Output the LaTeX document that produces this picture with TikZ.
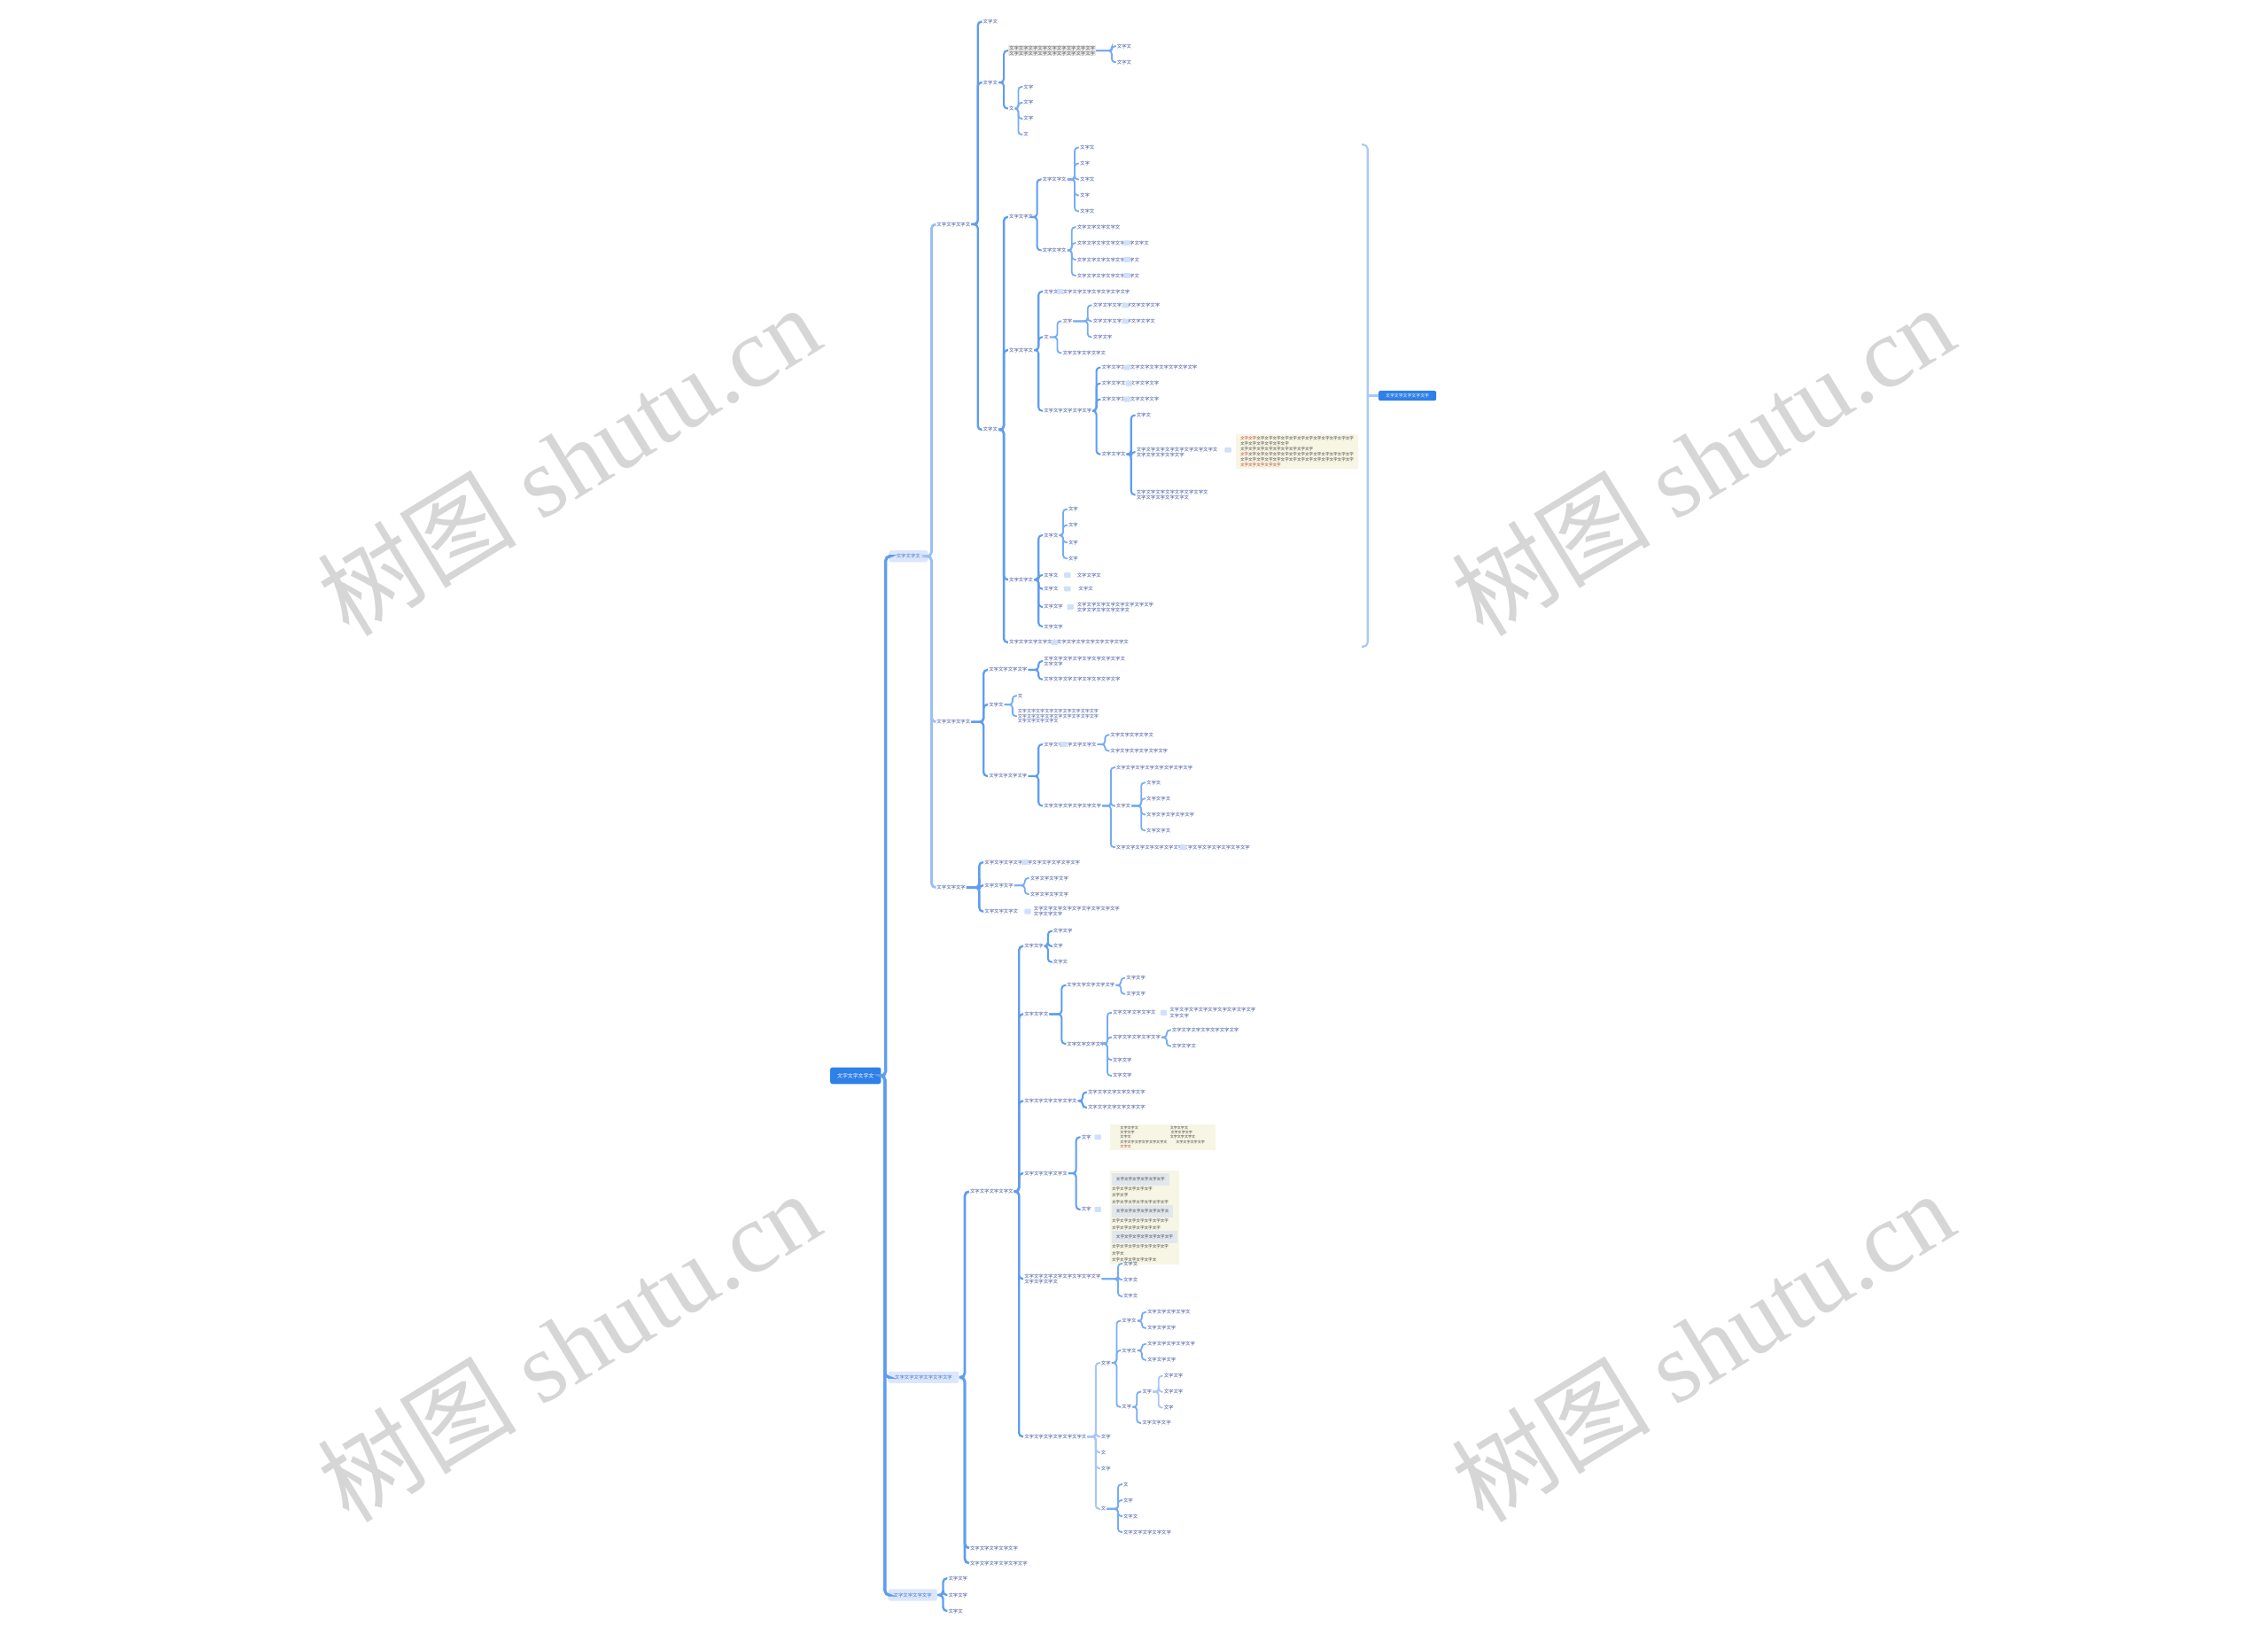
\documentclass[tikz,border=0pt]{standalone}
\usepackage{fontspec}
\setmainfont{Liberation Serif}
\newfontfamily\cjk{Noto Sans CJK SC}
\definecolor{lnc}{HTML}{5E9DF2}
\definecolor{lnl}{HTML}{A9C8F6}
\definecolor{txc}{HTML}{34489A}
\definecolor{rootc}{HTML}{2F80E8}
\definecolor{l1fill}{HTML}{DCE7FB}
\definecolor{l1txt}{HTML}{3B6FD6}
\definecolor{notec}{HTML}{F7F5E4}
\definecolor{notered}{HTML}{C0392B}
\definecolor{icc}{HTML}{CFE0FA}
\definecolor{wm}{HTML}{D6D6D6}
\newcommand\txn[1]{\foreach\ii in {1,...,#1}{\ifodd\ii\relax 文\else 字\fi}}
\newcommand\tx[1]{\pgfmathtruncatemacro\nch{max(1,round(#1/3.3))}\txn{\nch}}
\newcommand\cns[3]{\foreach \kid in {#3}{\draw[#1] (#2.east) -| ([xshift=-3pt]\kid.west) -- (\kid.west);}}
\tikzset{
 tn/.style={anchor=west, inner xsep=0.5pt, inner ysep=0.4pt, font=\cjk\fontsize{3.3}{3.8}\selectfont, text=txc, align=left},
 rootbox/.style={fill=rootc, text=white, rounded corners=1.5pt, inner sep=0pt, font=\cjk\fontsize{3.6}{4}\selectfont},
 l1box/.style={fill=l1fill, text=l1txt, rounded corners=1.5pt, minimum height=8pt, inner sep=0pt, font=\cjk\fontsize{3.3}{3.8}\selectfont},
 k0/.style={draw=lnc, line width=2pt, rounded corners=3pt},
 k1/.style={draw=lnc, line width=1.7pt, rounded corners=3pt},
 k2/.style={draw=lnc, line width=1.45pt, rounded corners=2.6pt},
 k3/.style={draw=lnc, line width=1.25pt, rounded corners=2.4pt},
 k4/.style={draw=lnc!85!white, line width=1.1pt, rounded corners=2.2pt},
 ic/.style={fill=icc, rounded corners=0.5pt, minimum width=4.5pt, minimum height=3.6pt, inner sep=0pt},
 notebox/.style={anchor=north west, fill=notec, inner sep=1.5pt, text=black!75, align=left},
 wmark/.style={rotate=31.5, text=wm, font=\fontsize{69}{72}\selectfont, inner sep=0pt},
}
\begin{document}
\begin{tikzpicture}[x=1pt,y=-1pt]
\useasboundingbox (0,0) rectangle (1568,1129);
\fill[white] (0,0) rectangle (1568,1129);
% watermarks
\node[wmark] (w1) at (393,318) {{\cjk 树图} shutu.cn};
\node[wmark] (w2) at (1177,318) {{\cjk 树图} shutu.cn};
\node[wmark] (w3) at (393,930) {{\cjk 树图} shutu.cn};
\node[wmark] (w4) at (1177,930) {{\cjk 树图} shutu.cn};
% root and level 1
\node[rootbox, minimum width=35pt, minimum height=11.5pt] (R) at (591.5,743.5) {\tx{23}};
\node[l1box, minimum width=27pt] (A) at (628,384.5) {\tx{15}};
\node[l1box, minimum width=49pt] (B) at (638.5,952) {\tx{38}};
\node[l1box, minimum width=34pt] (C) at (631,1102.5) {\tx{27}};
\foreach\kid in {A,B,C}{\draw[k0] (R.east) -| ([xshift=-2pt]\kid.west) -- (\kid.west);}
% ---------- A
\node[tn] (A1) at (647,155) {\tx{24}};
\node[tn] (A2) at (647,499) {\tx{24}};
\node[tn] (A3) at (647,613.5) {\tx{21}};
\cns{k1,draw=lnl!80!lnc}{A}{A1,A2,A3}
% A1
\node[tn] (A1a) at (679,15) {\tx{11}};
\node[tn] (A1b) at (679,57) {\tx{10}};
\node[tn] (A1c) at (679,297) {\tx{11}};
\cns{k2}{A1}{A1a,A1b,A1c}
\node[tn, fill=gray!18, text=gray!65!black] (A1b1) at (697,35) {\tx{58}\\\tx{58}};
\node[tn] (A1b2) at (697,75) {\tx{3}};
\cns{k3}{A1b}{A1b1,A1b2}
\node[tn] (A1b1a) at (771.6,32) {\tx{11}};
\node[tn] (A1b1b) at (771.6,43) {\tx{11}};
\cns{k4}{A1b1}{A1b1a,A1b1b}
\node[tn] (A1b2a) at (707,60) {\tx{5}};
\node[tn] (A1b2b) at (707,71) {\tx{5}};
\node[tn] (A1b2c) at (707,82) {\tx{5}};
\node[tn] (A1b2d) at (707,93) {\tx{3}};
\cns{k4}{A1b2}{A1b2a,A1b2b,A1b2c,A1b2d}
% A1c
\node[tn] (A1c1) at (697,150) {\tx{16}};
\node[tn] (A1c2) at (697,242) {\tx{15}};
\node[tn] (A1c3) at (697,400.6) {\tx{15}};
\node[tn] (A1c4) at (697,444) {\tx{82}};
\node[ic] (i1) at (729,444) {};
\cns{k2}{A1c}{A1c1,A1c2,A1c3,A1c4}
\node[tn] (A1c1a) at (720,124) {\tx{16}};
\node[tn] (A1c1b) at (720,173) {\tx{18}};
\cns{k3}{A1c1}{A1c1a,A1c1b}
\node[tn] (A1c1a1) at (746,102) {\tx{10}};
\node[tn] (A1c1a2) at (746,113) {\tx{8}};
\node[tn] (A1c1a3) at (746,124) {\tx{10}};
\node[tn] (A1c1a4) at (746,135) {\tx{6}};
\node[tn] (A1c1a5) at (746,146) {\tx{10}};
\cns{k4}{A1c1a}{A1c1a1,A1c1a2,A1c1a3,A1c1a4,A1c1a5}
\node[tn] (A1c1b1) at (744,157) {\tx{31}};
\node[tn] (A1c1b2) at (744,168) {\tx{50}};
\node[tn] (A1c1b3) at (744,179.5) {\tx{42}};
\node[tn] (A1c1b4) at (744,190.5) {\tx{42}};
\node[ic] (i2) at (779,168) {};
\node[ic] (i3) at (779,179.5) {};
\node[ic] (i4) at (779,190.5) {};
\cns{k4}{A1c1b}{A1c1b1,A1c1b2,A1c1b3,A1c1b4}
\node[tn] (A1c2a) at (721,201.5) {\tx{61}};
\node[ic] (i5) at (733,201.5) {};
\node[tn] (A1c2b) at (721,233) {\tx{4}};
\node[tn] (A1c2c) at (721,284) {\tx{34}};
\cns{k3}{A1c2}{A1c2a,A1c2b,A1c2c}
\node[tn] (A1c2b1) at (734,222) {\tx{8}};
\node[tn] (A1c2b2) at (734,244) {\tx{30}};
\cns{k4}{A1c2b}{A1c2b1,A1c2b2}
\node[tn] (A1c2b1a) at (755,211) {\tx{45}};
\node[tn] (A1c2b1b) at (755,222) {\tx{44}};
\node[tn] (A1c2b1c) at (755,233) {\tx{12}};
\node[ic] (i6) at (778,211) {};
\node[ic] (i7) at (778,222) {};
\cns{k4}{A1c2b1}{A1c2b1a,A1c2b1b,A1c2b1c}
\node[tn] (A1c2c1) at (761,254) {\tx{65}};
\node[tn] (A1c2c2) at (761,265) {\tx{41}};
\node[tn] (A1c2c3) at (761,276) {\tx{41}};
\node[tn] (A1c2c4) at (761,314) {\tx{15}};
\node[ic] (i8) at (779,254) {};
\node[ic] (i9) at (780.5,265) {};
\node[ic] (i10) at (779,276) {};
\cns{k3}{A1c2c}{A1c2c1,A1c2c2,A1c2c3,A1c2c4}
\node[tn] (A1c2c4a) at (785,287) {\tx{10}};
\node[tn] (A1c2c4b) at (785,312.5) {\tx{56}\\\tx{33}};
\node[tn] (A1c2c4c) at (785,342) {\tx{48}\\\tx{37}};
\cns{k3}{A1c2c4}{A1c2c4a,A1c2c4b,A1c2c4c}
\node[ic] (i11) at (849,311) {};
\node[notebox, minimum width=85pt, minimum height=24pt, font=\cjk\fontsize{2.8}{3.7}\selectfont] (N1) at (854,300)
 {{\color{notered}\txn{4}}\txn{24}\\\txn{12}\\\txn{18}\\{\color{notered}\txn{2}}\txn{26}\\\txn{28}\\{\color{notered}\txn{10}}};
% A1c3
\node[tn] (A1c3a) at (721,370) {\tx{10}};
\node[tn] (A1c3b) at (721,397.5) {\tx{10}};
\node[tn] (A1c3c) at (721,407) {\tx{9}};
\node[tn] (A1c3d) at (721,419.5) {\tx{14}};
\node[tn] (A1c3e) at (721,433) {\tx{13}};
\cns{k3}{A1c3}{A1c3a,A1c3b,A1c3c,A1c3d,A1c3e}
\node[ic] (i12) at (738,397.5) {};
\node[ic] (i13) at (738,407) {};
\node[ic] (i14) at (740,419.5) {};
\node[tn] (A1c3bx) at (744,397.5) {\tx{15}};
\node[tn] (A1c3cx) at (745,407) {\tx{11}};
\node[tn] (A1c3dx) at (744,420) {\tx{54}\\\tx{37}};
\node[tn] (A1c3a1) at (738,352) {\tx{7}};
\node[tn] (A1c3a2) at (738,363) {\tx{7}};
\node[tn] (A1c3a3) at (738,375) {\tx{6}};
\node[tn] (A1c3a4) at (738,386) {\tx{7}};
\cns{k4}{A1c3a}{A1c3a1,A1c3a2,A1c3a3,A1c3a4}
% summary
\draw[lnl, line width=1.3pt, rounded corners=3pt] (941.5,100) -| (945.5,447) -- (941.5,447);
\node[rootbox, minimum width=40pt, minimum height=7pt, font=\cjk\fontsize{3}{3.5}\selectfont] (S) at (973,273.5) {\tx{32}};
\draw[lnl, line width=1.3pt] (945.5,273.5) -- (S.west);
% A2
\node[tn] (A2a) at (683,463) {\tx{28}};
\node[tn] (A2b) at (683,487) {\tx{11}};
\node[tn] (A2c) at (683,536.5) {\tx{27}};
\cns{k2}{A2}{A2a,A2b,A2c}
\node[tn] (A2a1) at (721,457) {\tx{55}\\\tx{12}};
\node[tn] (A2a2) at (721,469.6) {\tx{54}};
\cns{k3}{A2a}{A2a1,A2a2}
\node[tn] (A2b1) at (703,481) {\tx{3}};
\node[tn, font=\cjk\fontsize{3.1}{3.6}\selectfont] (A2b2) at (703,495) {\tx{58}\\\tx{58}\\\tx{31}};
\cns{k4}{A2b}{A2b1,A2b2}
\node[tn] (A2c1) at (721,514.5) {\tx{37}};
\node[tn] (A2c2) at (721,557) {\tx{39}};
\node[ic] (i15) at (735,514.5) {};
\cns{k3}{A2c}{A2c1,A2c2}
\node[tn] (A2c1a) at (767,508) {\tx{31}};
\node[tn] (A2c1b) at (767,519) {\tx{39}};
\cns{k4}{A2c1}{A2c1a,A2c1b}
\node[tn] (A2c2a) at (771,530.5) {\tx{54}};
\node[tn] (A2c2b) at (771,557) {\tx{9}};
\node[tn] (A2c2c) at (771,585.6) {\tx{94}};
\node[ic] (i16) at (818,585.6) {};
\cns{k4}{A2c2}{A2c2a,A2c2b,A2c2c}
\node[tn] (A2c2b1) at (792,541) {\tx{11}};
\node[tn] (A2c2b2) at (792,552) {\tx{17}};
\node[tn] (A2c2b3) at (792,563) {\tx{32}};
\node[tn] (A2c2b4) at (792,574) {\tx{18}};
\cns{k4}{A2c2b}{A2c2b1,A2c2b2,A2c2b3,A2c2b4}
% A3
\node[tn] (A3a) at (680,596) {\tx{66}};
\node[tn] (A3b) at (680,612) {\tx{21}};
\node[tn] (A3c) at (680,630) {\tx{22}};
\node[ic] (i17) at (708.5,596) {};
\node[ic] (i18) at (710.5,630) {};
\node[tn] (A3cx) at (714,630) {\tx{58}\\\tx{20}};
\cns{k2}{A3}{A3a,A3b,A3c}
\node[tn] (A3b1) at (711.5,607) {\tx{27}};
\node[tn] (A3b2) at (711.5,618) {\tx{27}};
\cns{k4}{A3b}{A3b1,A3b2}
% ---------- B
\node[tn] (B1) at (670,823.6) {\tx{30}};
\node[tn] (B2) at (670,1070) {\tx{34}};
\node[tn] (B3) at (670,1080.5) {\tx{38}};
\cns{k1}{B}{B1,B2,B3}
\node[tn] (B1a) at (707.5,654) {\tx{12}};
\node[tn] (B1b) at (707.5,701) {\tx{18}};
\node[tn] (B1c) at (707.5,761) {\tx{37}};
\node[tn] (B1d) at (707.5,811) {\tx{29}};
\node[tn] (B1e) at (707.5,884) {\tx{54}\\\tx{24}};
\node[tn] (B1f) at (707.5,993) {\tx{44}};
\cns{k2}{B1}{B1a,B1b,B1c,B1d,B1e,B1f}
\node[tn] (B1a1) at (727.5,643.6) {\tx{12}};
\node[tn] (B1a2) at (727.5,654) {\tx{6}};
\node[tn] (B1a3) at (727.5,665) {\tx{10}};
\cns{k3}{B1a}{B1a1,B1a2,B1a3}
\node[tn] (B1b1) at (737,681) {\tx{33}};
\node[tn] (B1b2) at (737,721.5) {\tx{25}};
\cns{k3}{B1b}{B1b1,B1b2}
\node[tn] (B1b1a) at (778,676) {\tx{13}};
\node[tn] (B1b1b) at (778,687) {\tx{13}};
\cns{k4}{B1b1}{B1b1a,B1b1b}
\node[tn] (B1b2a) at (768.6,700) {\tx{31}};
\node[tn] (B1b2b) at (768.6,717) {\tx{34}};
\node[tn] (B1b2c) at (768.6,732.5) {\tx{12}};
\node[tn] (B1b2d) at (768.6,743.5) {\tx{12}};
\node[ic] (i19) at (804.5,700) {};
\node[tn] (B1b2ax) at (808,700) {\tx{58}\\\tx{12}};
\cns{k4}{B1b2}{B1b2a,B1b2b,B1b2c,B1b2d}
\node[tn] (B1b2b1) at (809.6,712) {\tx{45}};
\node[tn] (B1b2b2) at (809.6,723) {\tx{16}};
\cns{k4}{B1b2b}{B1b2b1,B1b2b2}
\node[tn] (B1c1) at (751.5,755) {\tx{41}};
\node[tn] (B1c2) at (751.5,765.5) {\tx{38}};
\cns{k3}{B1c}{B1c1,B1c2}
\node[tn] (B1d1) at (747,786) {\tx{5}};
\node[tn] (B1d2) at (747,836) {\tx{5}};
\cns{k3}{B1d}{B1d1,B1d2}
\node[ic] (i20) at (759,786) {};
\node[ic] (i21) at (759,836) {};
\node[notebox, minimum width=73pt, minimum height=16pt, font=\cjk\fontsize{2.5}{3.1}\selectfont] (N2) at (767,777)
 {\txn{5}\hspace{22pt}\txn{5}\\\txn{4}\hspace{25pt}\txn{6}\\\txn{3}\hspace{27pt}\txn{7}\\\txn{13}\hspace{6pt}\txn{8}\\{\color{notered}\txn{3}}};
\node[notebox, minimum width=43pt, minimum height=51pt, font=\cjk\fontsize{2.8}{4.6}\selectfont] (N3) at (767,809)
 {\colorbox{icc!70!gray!40}{\txn{12}}\\\txn{10}\\\txn{4}\\\txn{14}\\\colorbox{icc!70!gray!40}{\txn{13}}\\\txn{14}\\\txn{12}\\\colorbox{icc!70!gray!40}{\txn{14}}\\\txn{14}\\\txn{3}\\\txn{11}};
\node[tn] (B1e1) at (776,873.5) {\tx{11}};
\node[tn] (B1e2) at (776,884.5) {\tx{11}};
\node[tn] (B1e3) at (776,896) {\tx{11}};
\cns{k4}{B1e}{B1e1,B1e2,B1e3}
\node[tn] (B1f1) at (760.6,942) {\tx{5}};
\node[tn] (B1f2) at (760.6,993) {\tx{5}};
\node[tn] (B1f3) at (760.6,1004) {\tx{3}};
\node[tn] (B1f4) at (760.6,1015) {\tx{5}};
\node[tn] (B1f5) at (760.6,1043) {\tx{4}};
\cns{k3,draw=lnl}{B1f}{B1f1,B1f2,B1f3,B1f4,B1f5}
\node[tn] (B1f1a) at (775,913) {\tx{9}};
\node[tn] (B1f1b) at (775,933.5) {\tx{10}};
\node[tn] (B1f1c) at (775,972.5) {\tx{7}};
\cns{k4}{B1f1}{B1f1a,B1f1b,B1f1c}
\node[tn] (B1f1a1) at (792.5,907) {\tx{30}};
\node[tn] (B1f1a2) at (792.5,918) {\tx{20}};
\cns{k4}{B1f1a}{B1f1a1,B1f1a2}
\node[tn] (B1f1b1) at (792.5,929) {\tx{34}};
\node[tn] (B1f1b2) at (792.5,940) {\tx{20}};
\cns{k4}{B1f1b}{B1f1b1,B1f1b2}
\node[tn] (B1f1c1) at (789,962) {\tx{7}};
\node[tn] (B1f1c2) at (789,983.6) {\tx{20}};
\cns{k4}{B1f1c}{B1f1c1,B1f1c2}
\node[tn] (B1f1c1a) at (804,951) {\tx{14}};
\node[tn] (B1f1c1b) at (804,962) {\tx{14}};
\node[tn] (B1f1c1c) at (804,973) {\tx{6}};
\cns{k4,draw=lnl}{B1f1c1}{B1f1c1a,B1f1c1b,B1f1c1c}
\node[tn] (B1f5a) at (776,1026) {\tx{3}};
\node[tn] (B1f5b) at (776,1037) {\tx{8}};
\node[tn] (B1f5c) at (776,1048) {\tx{9}};
\node[tn] (B1f5d) at (776,1059) {\tx{33}};
\cns{k4}{B1f5}{B1f5a,B1f5b,B1f5c,B1f5d}
% ---------- C
\node[tn] (C1) at (655,1091) {\tx{12}};
\node[tn] (C2) at (655,1102.5) {\tx{12}};
\node[tn] (C3) at (655,1113.5) {\tx{11}};
\cns{k2}{C}{C1,C2,C3}
\end{tikzpicture}
\end{document}
